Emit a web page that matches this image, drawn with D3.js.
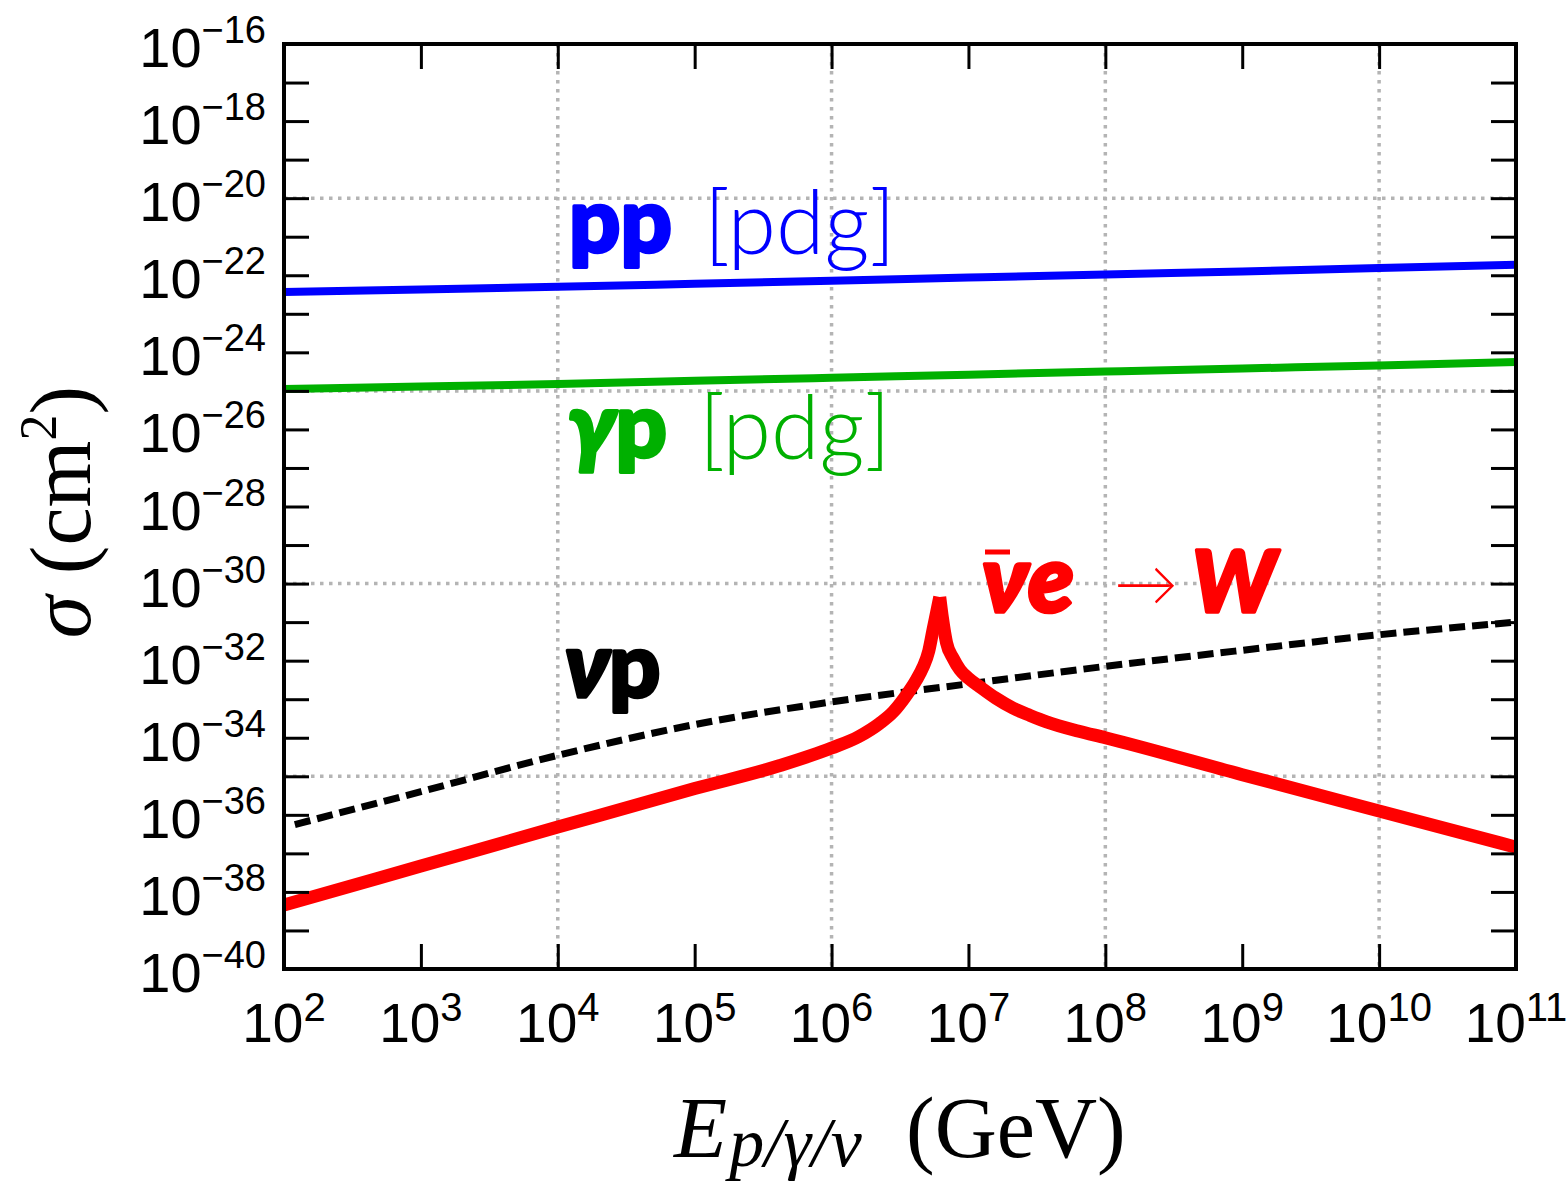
<!DOCTYPE html>
<html>
<head>
<meta charset="utf-8">
<script src="https://cdn.jsdelivr.net/npm/d3@7"></script>
<style>
body { margin: 0; background: #fff; }
</style>
</head>
<body>
<div id="chart"></div>
<script>
var width = 1568;
var height = 1185;

var plotLeft = 284, plotRight = 1516, plotTop = 44, plotBottom = 969;

// axis ticks ------------------------------------------------------
var xTickExps = [2, 3, 4, 5, 6, 7, 8, 9, 10, 11];
var yTickExps = d3.range(-40, -15);
var yLabelExps = [-16, -18, -20, -22, -24, -26, -28, -30, -32, -34, -36, -38, -40];
var xGridExps = [4, 6, 8, 10];
var yGridExps = [-20, -25, -30, -35];

// curves (E in GeV, sigma in cm^2) --------------------------------
var ppE     = [1e2, 1e3, 1e4, 1e5, 1e6, 1e7, 1e8, 1e9, 1e10, 1e11];
var ppSigma = [3.7e-23, 4.3e-23, 5.0e-23, 6.0e-23, 7.2e-23, 8.7e-23, 1.05e-22, 1.26e-22, 1.55e-22, 1.86e-22];

var gpE     = [1e2, 1e3, 1e4, 1e5, 1e6, 1e7, 1e8, 1e9, 1e10, 1e11];
var gpSigma = [1.12e-25, 1.29e-25, 1.51e-25, 1.82e-25, 2.19e-25, 2.63e-25, 3.16e-25, 3.8e-25, 4.57e-25, 5.62e-25];

var npE     = [1.2e2, 1e3, 1e4, 1e5, 1e6, 1e7, 1e8, 1e9, 1e10, 1e11];
var npSigma = [5.6e-37, 4.0e-36, 3.5e-35, 2.2e-34, 8.5e-34, 2.5e-33, 7.1e-33, 1.86e-32, 4.7e-32, 1.0e-31];

// Glashow resonance, rising side then falling side
var weRiseE     = [1e2, 1e3, 1e4, 1e5, 4.2e5, 1e6, 1.58e6, 2.26e6, 2.82e6, 3.53e6, 4.17e6, 4.66e6, 5.13e6, 5.51e6, 5.89e6, 6.17e6];
var weRiseSigma = [4.6e-39, 4.7e-38, 4.8e-37, 4.8e-36, 1.9e-35, 5.4e-35, 1.07e-34, 2.4e-34, 4.7e-34, 1.29e-33, 3.2e-33, 6.8e-33, 1.78e-32, 6.3e-32, 2.0e-31, 4.5e-31];
var weFallE     = [6.17e6, 6.46e6, 6.92e6, 7.76e6, 8.67e6, 1e7, 1.21e7, 1.58e7, 2.11e7, 2.82e7, 3.72e7, 6.3e7, 1e8, 1e9, 1e10, 1e11];
var weFallSigma = [4.5e-31, 1.26e-31, 2.9e-32, 1.12e-32, 5.8e-33, 3.5e-33, 2.1e-33, 1.07e-33, 5.9e-34, 3.8e-34, 2.6e-34, 1.5e-34, 1.0e-34, 1.1e-35, 1.26e-36, 1.45e-37];

var x = d3.scaleLog()
	.domain([1e2, 1e11])
	.range([plotLeft, plotRight]);

var y = d3.scaleLog()
	.domain([1e-40, 1e-16])
	.range([plotBottom, plotTop]);

var svg = d3.select("#chart")
	.append("svg")
	.attr("width", width)
	.attr("height", height);

svg.append("defs").append("clipPath")
	.attr("id", "plotClip")
	.append("rect")
	.attr("x", plotLeft)
	.attr("y", plotTop)
	.attr("width", plotRight - plotLeft)
	.attr("height", plotBottom - plotTop);

// grid -------------------------------------------------------------
var grid = svg.append("g")
	.attr("stroke", "#b4b4b4")
	.attr("stroke-width", 3.5)
	.attr("stroke-dasharray", "3.5,5.5");

grid.selectAll("line.gx")
	.data(xGridExps)
	.enter()
	.append("line")
	.attr("x1", function(d) { return x(Math.pow(10, d)); })
	.attr("x2", function(d) { return x(Math.pow(10, d)); })
	.attr("y1", plotTop)
	.attr("y2", plotBottom);

grid.selectAll("line.gy")
	.data(yGridExps)
	.enter()
	.append("line")
	.attr("x1", plotLeft)
	.attr("x2", plotRight)
	.attr("y1", function(d) { return y(Math.pow(10, d)); })
	.attr("y2", function(d) { return y(Math.pow(10, d)); });

// curves -----------------------------------------------------------
var curves = svg.append("g").attr("clip-path", "url(#plotClip)");

function pairs(es, ss) {
	return es.map(function(e, i) { return [e, ss[i]]; });
}

var line = d3.line()
	.x(function(d) { return x(d[0]); })
	.y(function(d) { return y(d[1]); })
	.curve(d3.curveMonotoneX);

curves.append("path")
	.attr("d", line(pairs(ppE, ppSigma)))
	.attr("fill", "none")
	.attr("stroke", "#0000ff")
	.attr("stroke-width", 8);

curves.append("path")
	.attr("d", line(pairs(gpE, gpSigma)))
	.attr("fill", "none")
	.attr("stroke", "#00b000")
	.attr("stroke-width", 8);

curves.append("path")
	.attr("d", line(pairs(npE, npSigma)))
	.attr("fill", "none")
	.attr("stroke", "#000")
	.attr("stroke-width", 7)
	.attr("stroke-dasharray", "16,7");

curves.append("path")
	.attr("d", line(pairs(weRiseE, weRiseSigma)))
	.attr("fill", "none")
	.attr("stroke", "#ff0000")
	.attr("stroke-width", 13);

curves.append("path")
	.attr("d", line(pairs(weFallE, weFallSigma)))
	.attr("fill", "none")
	.attr("stroke", "#ff0000")
	.attr("stroke-width", 13);

// frame and ticks ---------------------------------------------------
var tickLen = 25;
var axes = svg.append("g");

axes.append("g")
	.attr("transform", "translate(0," + plotBottom + ")")
	.call(d3.axisBottom(x).tickValues(xTickExps.map(function(d) { return Math.pow(10, d); }))
		.tickSizeInner(-tickLen).tickSizeOuter(0).tickFormat(""));
axes.append("g")
	.attr("transform", "translate(0," + plotTop + ")")
	.call(d3.axisTop(x).tickValues(xTickExps.map(function(d) { return Math.pow(10, d); }))
		.tickSizeInner(-tickLen).tickSizeOuter(0).tickFormat(""));
axes.append("g")
	.attr("transform", "translate(" + plotLeft + ",0)")
	.call(d3.axisLeft(y).tickValues(yTickExps.map(function(d) { return Math.pow(10, d); }))
		.tickSizeInner(-tickLen).tickSizeOuter(0).tickFormat(""));
axes.append("g")
	.attr("transform", "translate(" + plotRight + ",0)")
	.call(d3.axisRight(y).tickValues(yTickExps.map(function(d) { return Math.pow(10, d); }))
		.tickSizeInner(-tickLen).tickSizeOuter(0).tickFormat(""));

axes.selectAll(".domain").remove();
axes.selectAll(".tick line")
	.attr("stroke", "#000")
	.attr("stroke-width", 3);

svg.append("rect")
	.attr("x", plotLeft)
	.attr("y", plotTop)
	.attr("width", plotRight - plotLeft)
	.attr("height", plotBottom - plotTop)
	.attr("fill", "none")
	.attr("stroke", "#000")
	.attr("stroke-width", 4);

// tick labels -------------------------------------------------------
var labelFont = "'Liberation Sans', Arial, sans-serif";

var xLabels = svg.selectAll("text.xl")
	.data(xTickExps)
	.enter()
	.append("text")
	.attr("class", "xl")
	.attr("x", function(d) { return x(Math.pow(10, d)); })
	.attr("y", plotBottom + 73)
	.attr("text-anchor", "middle")
	.attr("font-family", labelFont)
	.attr("font-size", 55);
xLabels.append("tspan").text("10");
xLabels.append("tspan")
	.attr("dy", -21)
	.attr("font-size", 40)
	.text(function(d) { return d; });

var yLabels = svg.selectAll("text.yl")
	.data(yLabelExps)
	.enter()
	.append("text")
	.attr("class", "yl")
	.attr("x", 266)
	.attr("y", function(d) { return y(Math.pow(10, d)) + 23; })
	.attr("text-anchor", "end")
	.attr("font-family", labelFont)
	.attr("font-size", 56);
yLabels.append("tspan").text("10");
yLabels.append("tspan")
	.attr("dy", -24)
	.attr("font-size", 38)
	.text(function(d) { return "\u2212" + Math.abs(d); });

// axis titles -------------------------------------------------------
var serif = "'Liberation Serif', 'Times New Roman', serif";

var xTitle = svg.append("text")
	.attr("x", 674)
	.attr("y", 1157)
	.attr("font-family", serif)
	.attr("font-size", 87);
xTitle.append("tspan").attr("font-style", "italic").text("E");
xTitle.append("tspan")
	.attr("dy", 9)
	.attr("dx", 2)
	.attr("font-size", 70)
	.attr("font-style", "italic")
	.text("p/\u03b3/\u03bd");
svg.append("text")
	.attr("x", 906)
	.attr("y", 1157)
	.attr("font-family", serif)
	.attr("font-size", 86)
	.text("(GeV)");

var yTitle = svg.append("text")
	.attr("transform", "translate(90,512) rotate(-90)")
	.attr("text-anchor", "middle")
	.attr("font-family", serif)
	.attr("font-size", 86);
yTitle.append("tspan").attr("font-style", "italic").text("\u03c3");
yTitle.append("tspan").text(" (cm");
yTitle.append("tspan").attr("dy", -34).attr("font-size", 52).text("2");
yTitle.append("tspan").attr("dy", 34).text(")");

// curve labels ------------------------------------------------------
var annFont = "Lato, 'Open Sans', sans-serif";

function heavy(sel, txt, italic) {
	sel.append("tspan")
		.attr("font-weight", 900)
		.attr("font-style", italic ? "italic" : "normal")
		.text(txt);
}

// thicken the heavy glyphs a bit with a stroke of the same colour
function boldText(x0, y0, size, color) {
	return svg.append("text")
		.attr("x", x0).attr("y", y0)
		.attr("font-family", annFont).attr("font-size", size)
		.attr("fill", color)
		.attr("stroke", color)
		.attr("stroke-width", 3.5)
		.attr("stroke-linejoin", "round");
}

function lightText(x0, y0, size, color, txt) {
	return svg.append("text")
		.attr("x", x0).attr("y", y0)
		.attr("font-family", annFont).attr("font-size", size).attr("font-weight", 300)
		.attr("fill", color)
		.text(txt);
}

var ppLabel = boldText(569, 252, 90, "#0000ff");
heavy(ppLabel, "pp", false);
lightText(704, 254, 88, "#0000ff", "[pdg]");

var gpLabel = boldText(568, 457, 90, "#00b000");
heavy(gpLabel, "\u03b3", true);
heavy(gpLabel, "p", false);
lightText(699, 459, 88, "#00b000", "[pdg]");

var npLabel = boldText(565, 697, 90, "#000");
heavy(npLabel, "\u03bd", true);
heavy(npLabel, "p", false);

var weLabel = boldText(982, 612, 94, "#ff0000");
heavy(weLabel, "\u03bd", true);
heavy(weLabel, "e", true);
lightText(1114, 606, 64, "#ff0000", "\u2192");
var wLabel = boldText(1192, 612, 86, "#ff0000");
heavy(wLabel, "W", true);

// bar over the antineutrino
svg.append("line")
	.attr("x1", 985).attr("x2", 1010)
	.attr("y1", 552).attr("y2", 552)
	.attr("stroke", "#ff0000")
	.attr("stroke-width", 5);
</script>
</body>
</html>
